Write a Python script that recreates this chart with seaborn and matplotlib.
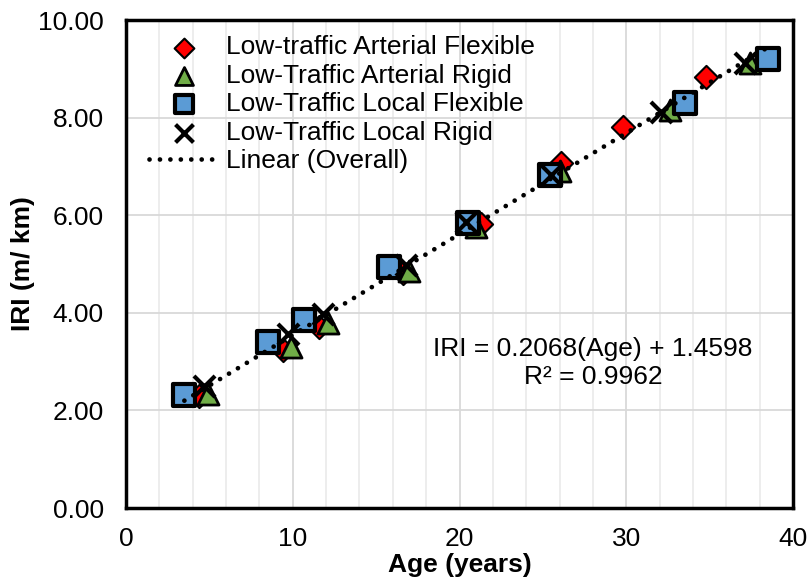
#!/usr/bin/env python3
"""
IRI vs Age scatter for low-traffic road categories, with overall linear trend
"""

import numpy as np
import pandas as pd
import matplotlib
matplotlib.use('Agg')
import matplotlib.pyplot as plt
from matplotlib.ticker import MultipleLocator, FormatStrFormatter
import seaborn as sns

# Values
art_flex_age = [4.4, 9.4, 11.6, 16.6, 21.3, 26.1, 29.8, 34.8]
art_flex_iri = [2.30, 3.24, 3.70, 4.82, 5.82, 7.07, 7.80, 8.83]

art_rigid_age = [4.9, 9.9, 12.1, 17.0, 21.0, 26.0, 32.6, 37.4]
art_rigid_iri = [2.34, 3.30, 3.80, 4.86, 5.76, 6.90, 8.15, 9.12]

loc_flex_age = [3.5, 8.5, 10.7, 15.8, 20.5, 25.4, 33.5, 38.5]
loc_flex_iri = [2.32, 3.41, 3.86, 4.94, 5.84, 6.82, 8.30, 9.21]

loc_rigid_age = [4.7, 9.7, 11.8, 16.8, 20.4, 25.5, 32.1, 37.1]
loc_rigid_iri = [2.50, 3.56, 3.98, 4.98, 5.86, 6.82, 8.12, 9.12]

series_names = ['Low-traffic Arterial Flexible', 'Low-Traffic Arterial Rigid',
                'Low-Traffic Local Flexible', 'Low-Traffic Local Rigid']
equation_text = 'IRI = 0.2068(Age) + 1.4598\nR² = 0.9962'

df = pd.DataFrame({
    'age': art_flex_age + art_rigid_age + loc_flex_age + loc_rigid_age,
    'iri': art_flex_iri + art_rigid_iri + loc_flex_iri + loc_rigid_iri,
    'group': [series_names[0]] * 8 + [series_names[1]] * 8
             + [series_names[2]] * 8 + [series_names[3]] * 8,
})

sns.set_style('white')
plt.rcParams['font.family'] = ['Liberation Sans', 'DejaVu Sans']
plt.rcParams['text.color'] = 'black'
plt.rcParams['axes.labelcolor'] = 'black'

FS = 19

fig = plt.figure(figsize=(8.08, 5.77), dpi=100)
ax = fig.add_axes([126 / 808, 1 - 508 / 577, 667 / 808, 488 / 577])

styles = {
    series_names[0]: dict(marker='D', s=140, color='#ff0000', edgecolor='black', linewidth=1.5),
    series_names[1]: dict(marker='^', s=230, color='#70ad47', edgecolor='black', linewidth=2),
    series_names[2]: dict(marker='s', s=250, color='#5b9bd5', edgecolor='black', linewidth=3),
    series_names[3]: dict(marker='x', s=230, color='black', linewidth=3),
}

for i, name in enumerate(series_names):
    sub = df[df['group'] == name]
    sns.scatterplot(data=sub, x='age', y='iri', ax=ax, label=name, zorder=3 + i,
                    **styles[name])

# Overall linear trend
sns.regplot(data=df, x='age', y='iri', ax=ax, scatter=False, ci=None, truncate=True,
            label='Linear (Overall)',
            line_kws=dict(color='black', lw=3.4, linestyle=(0, (0.01, 2.2)),
                          dash_capstyle='round', zorder=10))

ax.set_xlim(0, 40)
ax.set_ylim(0, 10)
ax.xaxis.set_major_locator(MultipleLocator(10))
ax.xaxis.set_minor_locator(MultipleLocator(2))
ax.yaxis.set_major_locator(MultipleLocator(2))
ax.yaxis.set_minor_locator(MultipleLocator(0.4))
ax.yaxis.set_major_formatter(FormatStrFormatter('%.2f'))

ax.grid(True, which='major', color='#d9d9d9', lw=1.3)
ax.grid(True, which='minor', axis='x', color='#ececec', lw=1.3)
ax.set_axisbelow(True)

for sp in ax.spines.values():
    sp.set_visible(True)
    sp.set_color('black')
    sp.set_linewidth(2.5)

ax.tick_params(which='both', direction='in', width=2, colors='black',
               labelsize=FS, top=False, right=False)
ax.tick_params(which='major', length=6)
ax.tick_params(which='minor', length=5)
ax.tick_params(axis='x', which='major', pad=14)
ax.tick_params(axis='y', which='major', pad=16)

ax.set_xlabel('Age (years)', fontsize=FS, fontweight='bold', labelpad=1)
ax.set_ylabel('IRI (m/ km)', fontsize=FS, fontweight='bold', labelpad=2)

ax.text(0.70, 0.297, equation_text, transform=ax.transAxes, ha='center', va='center',
        fontsize=FS, linespacing=1.25)

leg = ax.legend(loc='upper left', bbox_to_anchor=(0.018, 0.99), frameon=False,
                fontsize=FS, handlelength=2.65, handletextpad=0.3,
                labelspacing=0.17, borderaxespad=0.0, markerscale=0.85)

plt.savefig('out.png', dpi=100)
plt.close()
